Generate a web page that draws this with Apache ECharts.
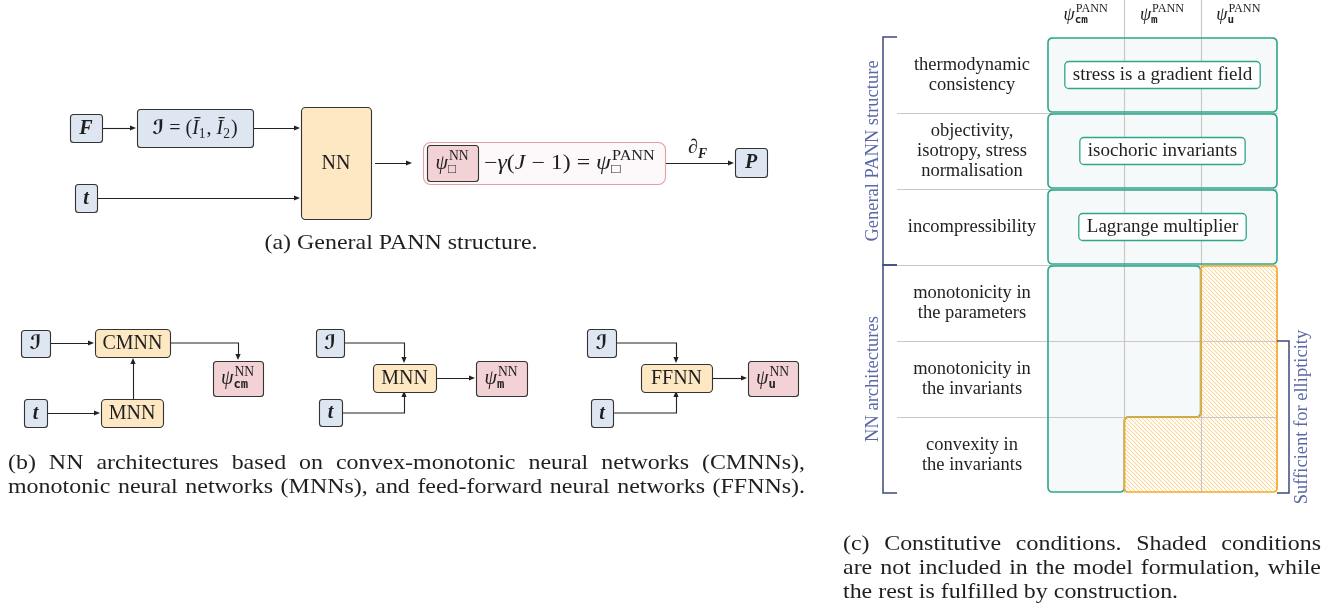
<!DOCTYPE html>
<html>
<head>
<meta charset="utf-8">
<title>PANN structure and constitutive conditions</title>
<script src="https://cdn.jsdelivr.net/npm/echarts@6/dist/echarts.min.js"></script>
<style>
  html, body { margin: 0; padding: 0; background: #ffffff; }
  #main { width: 1344px; height: 608px; }
</style>
</head>
<body>
<div id="main"></div>
<script>
// ---------------- panel (c): constitutive conditions ----------------
const potentials = ['cm', 'm', 'u'];
const conditions = [
  'thermodynamic\nconsistency',
  'objectivity,\nisotropy, stress\nnormalisation',
  'incompressibility',
  'monotonicity in\nthe parameters',
  'monotonicity in\nthe invariants',
  'convexity in\nthe invariants'
];
const conditionGroups = ['General PANN structure', 'NN architectures'];
const groupOfCondition = [0, 0, 0, 1, 1, 1];
const structureMeans = ['stress is a gradient field', 'isochoric invariants', 'Lagrange multiplier'];
// 1 = fulfilled by construction, 0 = not included in the model formulation
const fulfilled = [
  [1, 1, 1],
  [1, 1, 1],
  [1, 1, 1],
  [1, 1, 0],
  [1, 1, 0],
  [1, 0, 0]
];
const ellipticityRows = [4, 5];
const ellipticityNote = 'Sufficient for ellipticity';

// ---------------- panels (a) and (b): block diagrams ----------------
// expression key, block kind, x0, y0, x1, y1 (diagram units)
const blocks = [
  ['F', 'input', 70, 114, 102, 142],
  ['invariants', 'input', 137, 109, 253, 147],
  ['t', 'input', 75, 184, 97, 212],
  ['NN', 'net', 301, 107, 371, 219],
  ['', 'frame', 423, 142, 665, 184],
  ['psi', 'output', 427, 145, 478, 181],
  ['pann', 'text', 484, 142, 656, 184],
  ['P', 'input', 735, 148, 767, 177],
  ['I', 'input', 21, 330, 50, 357],
  ['CMNN', 'net', 95, 329, 170, 357],
  ['psi_cm', 'output', 213, 361, 263, 396],
  ['t', 'input', 24, 399, 47, 427],
  ['MNN', 'net', 101, 399, 163, 427],
  ['I', 'input', 316, 329, 344, 357],
  ['MNN', 'net', 373, 364, 436, 392],
  ['psi_m', 'output', 476, 361, 527, 396],
  ['t', 'input', 319, 399, 342, 426],
  ['I', 'input', 587, 329, 616, 357],
  ['FFNN', 'net', 641, 364, 712, 392],
  ['psi_u', 'output', 748, 361, 798, 396],
  ['t', 'input', 591, 399, 613, 427]
];
// connector polylines, arrow head at the last point
const arrows = [
  [[102, 128], [136, 128]],
  [[253, 128], [300, 128]],
  [[97, 198], [300, 198]],
  [[375, 163], [412, 163]],
  [[666, 163], [734, 163]],
  [[50, 343], [94, 343]],
  [[170, 343], [238, 343], [238, 360]],
  [[47, 413], [100, 413]],
  [[133, 399], [133, 358]],
  [[344, 343], [404, 343], [404, 363]],
  [[342, 413], [404, 413], [404, 391]],
  [[436, 378], [475, 378]],
  [[616, 343], [676, 343], [676, 363]],
  [[613, 413], [676, 413], [676, 391]],
  [[712, 378], [747, 378]]
];
const arrowNotes = [['dF', 698, 148]];

const captionA = ['(a) General PANN structure.'];
const captionB = [
  '(b) NN architectures based on convex-monotonic neural networks (CMNNs),',
  'monotonic neural networks (MNNs), and feed-forward neural networks (FFNNs).'
];
const captionC = [
  '(c) Constitutive conditions. Shaded conditions',
  'are not included in the model formulation, while',
  'the rest is fulfilled by construction.'
];

// ---------------- typesetting helpers ----------------
const INK = '#1f1f1f';
const SERIF = "'Liberation Serif', 'DejaVu Serif', serif";
const measureCtx = document.createElement('canvas').getContext('2d');
function measure(font, text) { measureCtx.font = font; return measureCtx.measureText(text).width; }
function fontStr(kind, size) {
  switch (kind) {
    case 'it': return `italic ${size}px ${SERIF}`;
    case 'bi': return `italic bold ${size}px ${SERIF}`;
    case 'sc': return `italic bold ${size}px 'DejaVu Serif', 'DejaVu Sans', serif`;
    case 'tt': return `bold ${size}px 'DejaVu Sans Mono', monospace`;
    default: return `${size}px ${SERIF}`;
  }
}
const psiScripts = (sup, sub) => [['it', 'ψ'], { sup: ['rm', sup], sub: sub }];
const expressions = {
  F: [['bi', 'F']],
  P: [['bi', 'P']],
  t: [['bi', 't']],
  I: [['sc', 'ℐ']],
  invariants: [['sc', 'ℐ'], ['rm', ' = ('], ['it', 'Ī'], { sub: ['rm', '1'] }, ['rm', ', '], ['it', 'Ī'], { sub: ['rm', '2'] }, ['rm', ')']],
  NN: [['rm', 'NN']],
  CMNN: [['rm', 'CMNN']],
  MNN: [['rm', 'MNN']],
  FFNN: [['rm', 'FFNN']],
  psi: psiScripts('NN', ['rm', '□']),
  pann: [['rm', '−'], ['it', 'γ'], ['rm', '('], ['it', 'J'], ['rm', ' − 1) = '], ['it', 'ψ'], { sup: ['rm', 'PANN'], sub: ['rm', '□'] }],
  psi_cm: psiScripts('NN', ['tt', 'cm']),
  psi_m: psiScripts('NN', ['tt', 'm']),
  psi_u: psiScripts('NN', ['tt', 'u']),
  dF: [['rm', '∂'], { sub: ['bi', 'F'] }]
};

// places the pieces of a small formula along a baseline; returns pieces and total width
function layoutMath(tokens, size) {
  const items = [];
  let x = 0;
  tokens.forEach(tok => {
    if (Array.isArray(tok)) {
      const f = fontStr(tok[0], size);
      items.push([tok[1], f, x, 0]);
      x += measure(f, tok[1]);
    } else {
      const ss = Math.round(size * 0.68 * 10) / 10;
      let w = 0;
      if (tok.sup) {
        const f = fontStr(tok.sup[0], ss);
        items.push([tok.sup[1], f, x + 1, -size * 0.33]);
        w = Math.max(w, measure(f, tok.sup[1]) + 1);
      }
      if (tok.sub) {
        const f = fontStr(tok.sub[0], tok.sub[0] === 'tt' ? ss * 0.9 : ss);
        items.push([tok.sub[1], f, x, size * 0.3]);
        w = Math.max(w, measure(f, tok.sub[1]));
      }
      x += w + 1;
    }
  });
  return { items, width: x };
}
// draws a formula centred on (cx, cy); opts.scale stretches it horizontally,
// opts.left anchors its left end at cx instead
function mathText(tokens, size, cx, cy, color, opts) {
  opts = opts || {};
  const k = opts.scale || 1;
  const lay = layoutMath(tokens, size);
  const left = opts.left ? cx : cx - lay.width * k / 2;
  return lay.items.map(([t, f, dx, dy]) => ({
    type: 'text', x: left + dx * k, y: cy + dy, scaleX: k, silent: true,
    style: { text: t, font: f, fill: color, align: 'left', verticalAlign: 'middle' }
  }));
}

const blockStyles = {
  input: { fill: '#dee6f2', stroke: '#333333', r: 3 },
  net: { fill: '#fde8c3', stroke: '#333333', r: 4 },
  output: { fill: '#f2d2d5', stroke: '#333333', r: 3 },
  frame: { fill: '#fdf8f9', stroke: '#e2a0a6', r: 7 }
};

// ---------------- render functions ----------------
function renderBlock(params, api) {
  const [key, kind, x0, y0, x1, y1] = blocks[params.dataIndex];
  const p0 = api.coord([x0, y0]), p1 = api.coord([x1, y1]);
  const children = [];
  const st = blockStyles[kind];
  if (st) {
    children.push({
      type: 'rect',
      shape: { x: p0[0] + 0.5, y: p0[1] + 0.5, width: p1[0] - p0[0], height: p1[1] - p0[1], r: st.r },
      style: { fill: st.fill, stroke: st.stroke, lineWidth: 1.1 }
    });
  }
  if (key && kind === 'text') {
    // free formula stretched to fill its slot
    const tokens = expressions[key];
    const natural = layoutMath(tokens, 20).width;
    children.push(...mathText(tokens, 20, p0[0], (p0[1] + p1[1]) / 2 + 0.5, INK,
      { left: true, scale: (p1[0] - p0[0]) / natural }));
  } else if (key) {
    children.push(...mathText(expressions[key], 20, (p0[0] + p1[0]) / 2, (p0[1] + p1[1]) / 2 + 0.5, INK));
  }
  return { type: 'group', children };
}

function renderArrow(params, api) {
  const px = arrows[params.dataIndex].map(p => api.coord(p));
  const n = px.length, tip = px[n - 1], prev = px[n - 2];
  const dx = tip[0] - prev[0], dy = tip[1] - prev[1], L = Math.hypot(dx, dy);
  const ux = dx / L, uy = dy / L, hl = 6, hw = 2.6;
  const base = [tip[0] - ux * hl, tip[1] - uy * hl];
  const line = px.slice(0, n - 1).concat([[tip[0] - ux * hl * 0.5, tip[1] - uy * hl * 0.5]])
    .map(p => [Math.round(p[0]) + (uy ? 0.5 : 0), Math.round(p[1]) + (ux ? 0.5 : 0)]);
  const children = [
    { type: 'polyline', shape: { points: line }, style: { stroke: '#222', lineWidth: 1.1, fill: null } },
    {
      type: 'polygon',
      shape: { points: [tip, [base[0] - uy * hw, base[1] + ux * hw], [base[0] + uy * hw, base[1] - ux * hw]] },
      style: { fill: '#222' }
    }
  ];
  return { type: 'group', children };
}

function renderArrowNote(params, api) {
  const [key, x, y] = arrowNotes[params.dataIndex];
  const p = api.coord([x, y]);
  return { type: 'group', children: mathText(expressions[key], 20, p[0], p[1], INK) };
}

const CAP_SIZE = 21, CAP_SCALE = 1.14;
const captionSets = [
  { lines: captionA, center: 401, x0: 263, x1: 540, y: 243, gap: 24, justify: [false] },
  { lines: captionB, x0: 8, x1: 805, y: 463, gap: 24, justify: [true, true] },
  { lines: captionC, x0: 843, x1: 1321, y: 544, gap: 24, justify: [true, true, false] }
];
function renderCaption(params, api) {
  const set = captionSets[params.dataIndex];
  const f = fontStr('rm', CAP_SIZE);
  const sp = measure(f, ' ') * CAP_SCALE;
  const els = [];
  const left = api.coord([set.x0, 0])[0], right = api.coord([set.x1, 0])[0];
  set.lines.forEach((line, i) => {
    const words = line.split(/ +/);
    const ws = words.map(w => measure(f, w) * CAP_SCALE);
    const total = ws.reduce((a, b) => a + b, 0);
    let gap = sp, x = left;
    if (set.justify[i] && words.length > 1) {
      gap = (right - left - total) / (words.length - 1);
    } else if (set.center != null) {
      x = api.coord([set.center, 0])[0] - (total + sp * (words.length - 1)) / 2;
    }
    const y = api.coord([0, set.y + i * set.gap])[1];
    words.forEach((w, j) => {
      els.push({
        type: 'text', x, y, scaleX: CAP_SCALE, silent: true,
        style: { text: w, font: f, fill: INK, align: 'left', verticalAlign: 'middle' }
      });
      x += ws[j] + gap;
    });
  });
  return { type: 'group', children: els };
}

// rounded outline of an axis-aligned polygon
function cleanPoly(pts) {
  let out = pts.filter((p, i) => {
    const q = pts[(i + pts.length - 1) % pts.length];
    return !(p[0] === q[0] && p[1] === q[1]);
  });
  out = out.filter((p, i) => {
    const a = out[(i + out.length - 1) % out.length], b = out[(i + 1) % out.length];
    return !((a[0] === p[0] && p[0] === b[0]) || (a[1] === p[1] && p[1] === b[1]));
  });
  return out;
}
function roundPoly(pts, r) {
  const out = [], n = pts.length;
  for (let i = 0; i < n; i++) {
    const p = pts[i], a = pts[(i - 1 + n) % n], b = pts[(i + 1) % n];
    const da = Math.hypot(a[0] - p[0], a[1] - p[1]), db = Math.hypot(b[0] - p[0], b[1] - p[1]);
    const rr = Math.min(r, da / 2, db / 2);
    const p1 = [p[0] + (a[0] - p[0]) / da * rr, p[1] + (a[1] - p[1]) / da * rr];
    const p2 = [p[0] + (b[0] - p[0]) / db * rr, p[1] + (b[1] - p[1]) / db * rr];
    for (let k = 0; k <= 6; k++) {
      const t = k / 6;
      out.push([
        (1 - t) * (1 - t) * p1[0] + 2 * (1 - t) * t * p[0] + t * t * p2[0],
        (1 - t) * (1 - t) * p1[1] + 2 * (1 - t) * t * p[1] + t * t * p2[1]
      ]);
    }
  }
  return out;
}

function hatchCanvas() {
  const s = 4, c = document.createElement('canvas');
  c.width = s; c.height = s;
  const g = c.getContext('2d');
  g.fillStyle = '#fffcf6';
  g.fillRect(0, 0, s, s);
  g.strokeStyle = '#f9cf86';
  g.lineWidth = 0.9;
  g.beginPath();
  g.moveTo(0, 0); g.lineTo(s, s);
  g.moveTo(-1, s - 1); g.lineTo(1, s + 1);
  g.moveTo(s - 1, -1); g.lineTo(s + 1, 1);
  g.stroke();
  return c;
}
const hatch = { image: hatchCanvas(), repeat: 'repeat' };

const GREEN = '#2fa58b', ORANGE = '#f3aa2c', RULE = '#c8c8c8', BRACKET = '#3c4a7e', BRACKET_TEXT = '#5a69a6';

function renderTable(params, api) {
  const nC = potentials.length, nR = conditions.length;
  // band edges from the category centres
  const c00 = api.coord([0, 0]), c11 = api.coord([1, 1]);
  const bw = c11[0] - c00[0], bh = c11[1] - c00[1];
  const X = b => c00[0] + (b - 0.5) * bw;
  const Y = r => c00[1] + (r - 0.5) * bh;
  const headerTop = Y(0) - 37, labelLeft = X(0) - 151;
  const toPx = (pts) => {
    const px = pts.map(([b, r]) => [X(b), Y(r)]);
    const ys = px.map(p => p[1]);
    const top = Math.min(...ys), bottom = Math.max(...ys);
    return px.map(([x, y]) => [x, y === top ? y + 1 : (y === bottom ? y - 1 : y)]);
  };

  // regions: rows of the general structure get one box each; the NN rows are split into
  // a fulfilled staircase and a shaded staircase
  const green = [], shaded = [];
  conditionGroups.forEach((g, gi) => {
    const rows = conditions.map((c, i) => i).filter(i => groupOfCondition[i] === gi);
    if (gi === 0) {
      rows.forEach(r => green.push(toPx([[0, r], [nC, r], [nC, r + 1], [0, r + 1]])));
    } else {
      const k = rows.map(r => { let c = 0; while (c < nC && fulfilled[r][c]) c++; return c; });
      const r0 = rows[0], r1 = rows[rows.length - 1] + 1;
      const gp = [[0, r0]];
      rows.forEach((r, i) => { gp.push([k[i], r], [k[i], r + 1]); });
      gp.push([0, r1]);
      green.push(toPx(cleanPoly(gp)));
      const sp = [[nC, r0], [nC, r1]];
      for (let i = rows.length - 1; i >= 0; i--) sp.push([k[i], rows[i] + 1], [k[i], rows[i]]);
      shaded.push(toPx(cleanPoly(sp)));
    }
  });

  const ch = [];
  green.forEach(p => ch.push({ type: 'polygon', shape: { points: roundPoly(p, 5) }, style: { fill: '#f6f9f9', stroke: null } }));
  shaded.forEach(p => ch.push({ type: 'polygon', shape: { points: roundPoly(p, 4) }, style: { fill: hatch, stroke: null } }));

  // rules between columns and rows
  for (let b = 1; b < nC; b++) {
    const x = Math.round(X(b)) + 0.5;
    ch.push({ type: 'line', shape: { x1: x, y1: headerTop, x2: x, y2: Y(nR) }, style: { stroke: RULE, lineWidth: 1.2 } });
  }
  for (let r = 1; r < nR; r++) {
    const y = Math.round(Y(r)) + 0.5;
    ch.push({ type: 'line', shape: { x1: labelLeft, y1: y, x2: X(nC), y2: y }, style: { stroke: RULE, lineWidth: 1.2 } });
  }

  green.forEach(p => ch.push({ type: 'polygon', shape: { points: roundPoly(p, 5) }, style: { fill: null, stroke: GREEN, lineWidth: 1.6 } }));
  shaded.forEach(p => ch.push({ type: 'polygon', shape: { points: roundPoly(p, 4) }, style: { fill: null, stroke: ORANGE, lineWidth: 1.7 } }));

  // how each general condition is built in
  structureMeans.forEach((txt, r) => {
    const f = fontStr('rm', 19);
    const w = measure(f, txt) + 16, h = 27;
    const cx = (X(0) + X(nC)) / 2, cy = (Y(r) + Y(r + 1)) / 2;
    ch.push({ type: 'rect', shape: { x: cx - w / 2, y: cy - h / 2, width: w, height: h, r: 4 }, style: { fill: '#ffffff', stroke: GREEN, lineWidth: 1.3 } });
    ch.push({ type: 'text', x: cx, y: cy + 0.5, style: { text: txt, font: f, fill: INK, align: 'center', verticalAlign: 'middle' } });
  });

  // column headers
  potentials.forEach((p, c) => {
    ch.push(...mathText([['it', 'ψ'], { sup: ['rm', 'PANN'], sub: ['tt', p] }], 18, (X(c) + X(c + 1)) / 2, headerTop + 15, INK));
  });

  // group brackets
  conditionGroups.forEach((g, gi) => {
    const rows = conditions.map((c, i) => i).filter(i => groupOfCondition[i] === gi);
    const yt = Y(rows[0]), yb = Y(rows[rows.length - 1] + 1);
    const bx = labelLeft - 14;
    ch.push({ type: 'polyline', shape: { points: [[labelLeft, yt], [bx, yt], [bx, yb], [labelLeft, yb]] }, style: { stroke: BRACKET, lineWidth: 1.5, fill: null } });
    ch.push({ type: 'text', x: bx - 10, y: (yt + yb) / 2, rotation: Math.PI / 2, style: { text: g, font: fontStr('rm', 18.5), fill: BRACKET_TEXT, align: 'center', verticalAlign: 'middle' } });
  });

  // ellipticity bracket
  const et = Y(ellipticityRows[0]), eb = Y(ellipticityRows[ellipticityRows.length - 1] + 1);
  const ex = X(nC) + 12;
  ch.push({ type: 'polyline', shape: { points: [[X(nC), et], [ex, et], [ex, eb], [X(nC), eb]] }, style: { stroke: BRACKET, lineWidth: 1.5, fill: null } });
  ch.push({ type: 'text', x: ex + 13, y: (et + eb) / 2, rotation: Math.PI / 2, style: { text: ellipticityNote, font: fontStr('rm', 18.5), fill: BRACKET_TEXT, align: 'center', verticalAlign: 'middle' } });

  return { type: 'group', children: ch };
}

// ---------------- chart ----------------
const chart = echarts.init(document.getElementById('main'), null, { renderer: 'canvas' });
chart.setOption({
  animation: false,
  backgroundColor: '#ffffff',
  grid: [
    { left: 0, top: 0, width: 1344, height: 608, outerBoundsMode: 'none' },
    { left: 1048, top: 37, width: 229, height: 456, outerBoundsMode: 'none' }
  ],
  xAxis: [
    { gridIndex: 0, type: 'value', min: 0, max: 1344, show: false },
    { gridIndex: 1, type: 'category', data: potentials, show: false }
  ],
  yAxis: [
    { gridIndex: 0, type: 'value', min: 0, max: 608, inverse: true, show: false },
    {
      gridIndex: 1, type: 'category', data: conditions, inverse: true,
      axisLine: { show: false }, axisTick: { show: false }, splitLine: { show: false },
      axisLabel: {
        interval: 0, margin: 76, align: 'center', color: INK,
        fontFamily: 'Liberation Serif', fontSize: 18.5, lineHeight: 20
      }
    }
  ],
  series: [
    { type: 'custom', name: 'conditions', xAxisIndex: 1, yAxisIndex: 1, clip: false, silent: true, data: [[0, 0]], renderItem: renderTable },
    { type: 'custom', name: 'connectors', xAxisIndex: 0, yAxisIndex: 0, clip: false, silent: true, data: arrows.map((a, i) => [i, 0]), renderItem: renderArrow },
    { type: 'custom', name: 'connector notes', xAxisIndex: 0, yAxisIndex: 0, clip: false, silent: true, data: arrowNotes.map((a, i) => [i, 0]), renderItem: renderArrowNote },
    { type: 'custom', name: 'blocks', xAxisIndex: 0, yAxisIndex: 0, clip: false, silent: true, data: blocks.map((b, i) => [i, 0]), renderItem: renderBlock },
    { type: 'custom', name: 'captions', xAxisIndex: 0, yAxisIndex: 0, clip: false, silent: true, data: captionSets.map((c, i) => [i, 0]), renderItem: renderCaption }
  ]
});
</script>
</body>
</html>
